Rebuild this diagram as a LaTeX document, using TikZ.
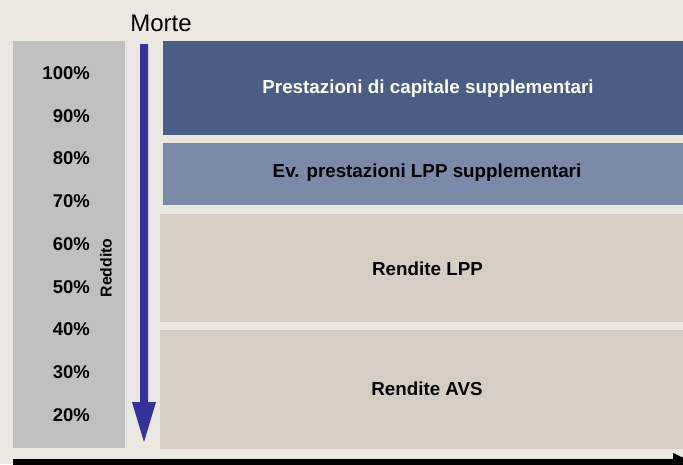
\documentclass[tikz,border=0pt]{standalone}
\usepackage{fontspec}
\setmainfont{Liberation Sans}
\definecolor{bg}{HTML}{EAE7E0}
\definecolor{scale}{HTML}{C0C0C0}
\definecolor{darkblue}{HTML}{4B5D84}
\definecolor{midblue}{HTML}{7B8AA8}
\definecolor{beige}{HTML}{D6CEC5}
\definecolor{arrowblue}{HTML}{33339B}
\begin{document}
\begin{tikzpicture}[x=1pt,y=-1pt,
  pct/.style={anchor=east,inner sep=0pt,font=\fontsize{18.5}{18.5}\selectfont\bfseries},
  boxtext/.style={inner sep=0pt,font=\fontsize{18.8}{19}\selectfont\bfseries},
  band/.style={draw=none,inner sep=0pt,anchor=north west}]
\useasboundingbox (0,0) rectangle (683,464);
\fill[bg] (0,0) rectangle (683,464);
% scale column
\node[band,fill=scale,minimum width=112pt,minimum height=407pt] (col) at (13,41) {};
\foreach \p/\y in {100/73,90/116,80/158,70/201,60/244,50/287,40/329,30/372,20/415}
  \node[pct] (p\p) at (90,\y) {\p\%};
\node[rotate=90,inner sep=0pt,font=\fontsize{15.8}{16}\selectfont\bfseries] (red) at (106,268) {Reddito};
% bands
\node[band,fill=darkblue,minimum width=530pt,minimum height=94pt] (b1) at (163,41) {};
\node[band,fill=midblue,minimum width=530pt,minimum height=62pt] (b2) at (163,143) {};
\node[band,fill=beige,minimum width=533pt,minimum height=108pt] (b3) at (160,214) {};
\node[band,fill=beige,minimum width=533pt,minimum height=119pt] (b4) at (160,330) {};
\node[boxtext,text=white] (t1) at (428,88.5) {Prestazioni di capitale supplementari};
\node[boxtext,text=black] (t2) at (427,172.5) {Ev. prestazioni LPP supplementari};
\node[boxtext,text=black] (t3) at (427.5,268.5) {Rendite LPP};
\node[boxtext,text=black] (t4) at (427,388.5) {Rendite AVS};
% death arrow
\node[inner sep=0pt,font=\fontsize{24}{24}\selectfont] (morte) at (161,23) {Morte};
\coordinate (atop) at (144,44);
\coordinate (atip) at (144,442);
\fill[arrowblue] (140,44) -- (148,44) -- (148,402) -- (156,402) -- (atip) -- (132,402) -- (140,402) -- cycle;
% time axis
\coordinate (ax0) at (13,461.5);
\coordinate (ax1) at (695,461.5);
\fill[black] (13,459) rectangle (680,470);
\fill[black] (673,453) -- (697,464) -- (673,476) -- cycle;
\end{tikzpicture}
\end{document}
